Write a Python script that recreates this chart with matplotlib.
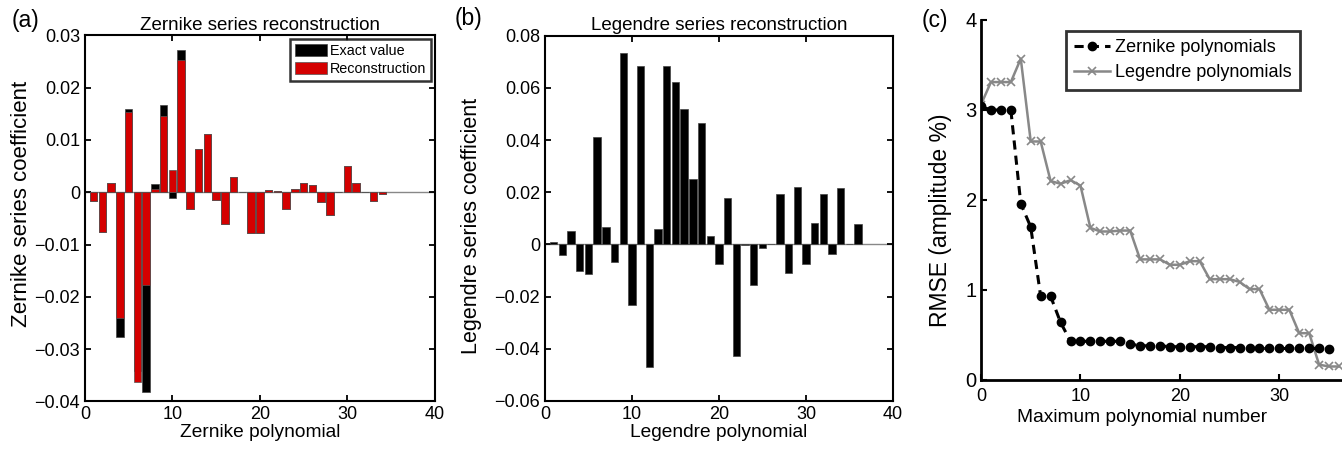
import numpy as np
import matplotlib
matplotlib.use('Agg')
import matplotlib.pyplot as plt

plt.rcParams['font.family'] = ['Liberation Sans', 'DejaVu Sans']

# ---- data ----
zern_n = np.arange(1, 35)
zern_exact = [-0.0016, -0.0076, 0.0018, -0.0276, 0.0159, -0.0342, -0.0381, 0.0015,
              0.0166, -0.0011, 0.0272, -0.0032, 0.0082, 0.0111, -0.0015, -0.0060,
              0.0029, 0.0, -0.0078, -0.0078, 0.0004, 0.0003, -0.0032, 0.0007,
              0.0017, 0.0013, -0.0018, -0.0043, 0.0, 0.0051, 0.0017, 0.0, -0.0017, -0.0003]
zern_recon = [-0.0016, -0.0076, 0.0018, -0.0240, 0.0153, -0.0362, -0.0178, 0.0006,
              0.0145, 0.0042, 0.0253, -0.0032, 0.0082, 0.0111, -0.0015, -0.0060,
              0.0029, 0.0, -0.0078, -0.0078, 0.0004, 0.0003, -0.0032, 0.0007,
              0.0017, 0.0013, -0.0018, -0.0043, 0.0, 0.0051, 0.0017, 0.0, -0.0017, -0.0003]

leg_n = np.arange(1, 37)
leg_coef = [0.0009, -0.0041, 0.0050, -0.0102, -0.0115, 0.0411, 0.0068, -0.0068,
            0.0732, -0.0231, 0.0683, -0.0468, 0.0060, 0.0683, 0.0622, 0.0520,
            0.0250, 0.0464, 0.0034, -0.0076, 0.0177, -0.0427, -0.0004, -0.0155,
            -0.0015, 0.0002, 0.0195, -0.0108, 0.0219, -0.0076, 0.0082, 0.0194,
            -0.0038, 0.0215, 0.0001, 0.0078]

rmse_zern_n = np.arange(0, 36)
rmse_zern = [3.04, 3.00, 3.00, 3.00, 1.96, 1.70, 0.93, 0.93, 0.64, 0.43,
             0.43, 0.43, 0.43, 0.43, 0.43, 0.40, 0.38, 0.38, 0.38, 0.37,
             0.37, 0.37, 0.37, 0.37, 0.36, 0.36, 0.36, 0.35, 0.35, 0.35,
             0.35, 0.35, 0.35, 0.35, 0.35, 0.34]
rmse_leg_n = np.arange(0, 37)
rmse_leg = [3.06, 3.31, 3.31, 3.31, 3.57, 2.65, 2.65, 2.21, 2.18, 2.22,
            2.16, 1.69, 1.65, 1.65, 1.66, 1.66, 1.34, 1.34, 1.34, 1.28,
            1.28, 1.32, 1.32, 1.12, 1.12, 1.12, 1.09, 1.01, 1.01, 0.78,
            0.78, 0.78, 0.52, 0.52, 0.17, 0.15, 0.15]

zern_yticks = [-0.04, -0.03, -0.02, -0.01, 0, 0.01, 0.02, 0.03]
leg_yticks = [-0.06, -0.04, -0.02, 0, 0.02, 0.04, 0.06, 0.08]

red = '#d40000'
fs = 13
M = '\u2212'

def tick_fmt(v, nd):
    if v == 0:
        return '0'
    s = f'{abs(v):.{nd}f}'
    return (M + s) if v < 0 else s

fig = plt.figure(figsize=(13.42, 4.5), dpi=100)

def box_axes(ax):
    for s in ax.spines.values():
        s.set_linewidth(1.5)
    ax.tick_params(direction='in', top=True, right=True, labelsize=fs,
                   length=4, width=1.3)

# (a) Zernike
ax1 = fig.add_axes([0.0633, 0.1078, 0.2608, 0.8138])
ax1.axhline(0, color='#888888', lw=1.0, zorder=1)
ax1.bar(zern_n, zern_exact, width=0.85, color='black', edgecolor='#444444',
        lw=0.5, label='Exact value', zorder=2)
ax1.bar(zern_n, zern_recon, width=0.85, color=red, edgecolor='#555555',
        lw=0.5, label='Reconstruction', zorder=3)
ax1.set_xlim(0, 40)
ax1.set_ylim(-0.04, 0.03)
ax1.set_xticks([0, 10, 20, 30, 40])
ax1.set_yticks(zern_yticks)
ax1.set_yticklabels([tick_fmt(v, 2) for v in zern_yticks])
box_axes(ax1)
ax1.set_title('Zernike series reconstruction', fontsize=13.5, pad=4)
ax1.set_xlabel('Zernike polynomial', fontsize=13.8)
ax1.xaxis.set_label_coords(0.5, -0.062)
ax1.set_ylabel('Zernike series coefficient', fontsize=16)
ax1.yaxis.set_label_coords(-0.152, 0.54)
leg1 = ax1.legend(loc='upper right', fontsize=10.4, frameon=True, fancybox=False,
                  edgecolor='black', handlelength=2.2, handleheight=0.9,
                  borderpad=0.35, labelspacing=0.3, handletextpad=0.2,
                  borderaxespad=0.25)
leg1.get_frame().set_linewidth(1.8)

# (b) Legendre
ax2 = fig.add_axes([0.4061, 0.109, 0.2593, 0.8117])
ax2.axhline(0, color='#888888', lw=1.0, zorder=1)
ax2.bar(leg_n, leg_coef, width=0.85, color='black', edgecolor='#444444',
        lw=0.5, zorder=2)
ax2.set_xlim(0, 40)
ax2.set_ylim(-0.06, 0.08)
ax2.set_xticks([0, 10, 20, 30, 40])
ax2.set_yticks(leg_yticks)
ax2.set_yticklabels([tick_fmt(v, 2) for v in leg_yticks])
box_axes(ax2)
ax2.set_title('Legendre series reconstruction', fontsize=13.5, pad=4)
ax2.set_xlabel('Legendre polynomial', fontsize=13.8)
ax2.xaxis.set_label_coords(0.5, -0.062)
ax2.set_ylabel('Legendre series coefficient', fontsize=15.5)
ax2.yaxis.set_label_coords(-0.182, 0.48)

# (c) RMSE
ax3 = fig.add_axes([0.731, 0.1556, 0.269, 0.80])
ax3.plot(rmse_zern_n, rmse_zern, color='black', lw=2.2, ls=(0, (3, 2)),
         marker='o', ms=6, label='Zernike polynomials', zorder=3)
ax3.plot(rmse_leg_n, rmse_leg, '-', color='#888888', lw=1.8, marker='x',
         ms=6, mew=1.2, label='Legendre polynomials', zorder=2)
ax3.set_xlim(0, 36.3)
ax3.set_ylim(0, 4)
ax3.set_xticks([0, 10, 20, 30])
ax3.set_yticks([0, 1, 2, 3, 4])
ax3.spines['top'].set_visible(False)
ax3.spines['right'].set_visible(False)
for s in ['left', 'bottom']:
    ax3.spines[s].set_linewidth(2.0)
ax3.tick_params(direction='in', length=4, width=1.5)
ax3.tick_params(axis='x', labelsize=13, pad=6)
ax3.tick_params(axis='y', labelsize=14.5, pad=3)
ax3.set_xlabel('Maximum polynomial number', fontsize=13.8)
ax3.xaxis.set_label_coords(0.446, -0.082)
ax3.set_ylabel('RMSE (amplitude %)', fontsize=16.5)
ax3.yaxis.set_label_coords(-0.08, 0.445)
leg3 = ax3.legend(loc='upper left', bbox_to_anchor=(0.235, 0.969), fontsize=13,
                  frameon=True, fancybox=False, edgecolor='black',
                  handlelength=2.0, borderpad=0.45, labelspacing=0.45,
                  handletextpad=0.3, borderaxespad=0)
leg3.get_frame().set_linewidth(2.0)

fig.text(12 / 1342, 1 - 9 / 450, '(a)', fontsize=16.5, va='top')
fig.text(455 / 1342, 1 - 7 / 450, '(b)', fontsize=16.5, va='top')
fig.text(922 / 1342, 1 - 9 / 450, '(c)', fontsize=16.5, va='top')

fig.savefig('out.png', dpi=100)
